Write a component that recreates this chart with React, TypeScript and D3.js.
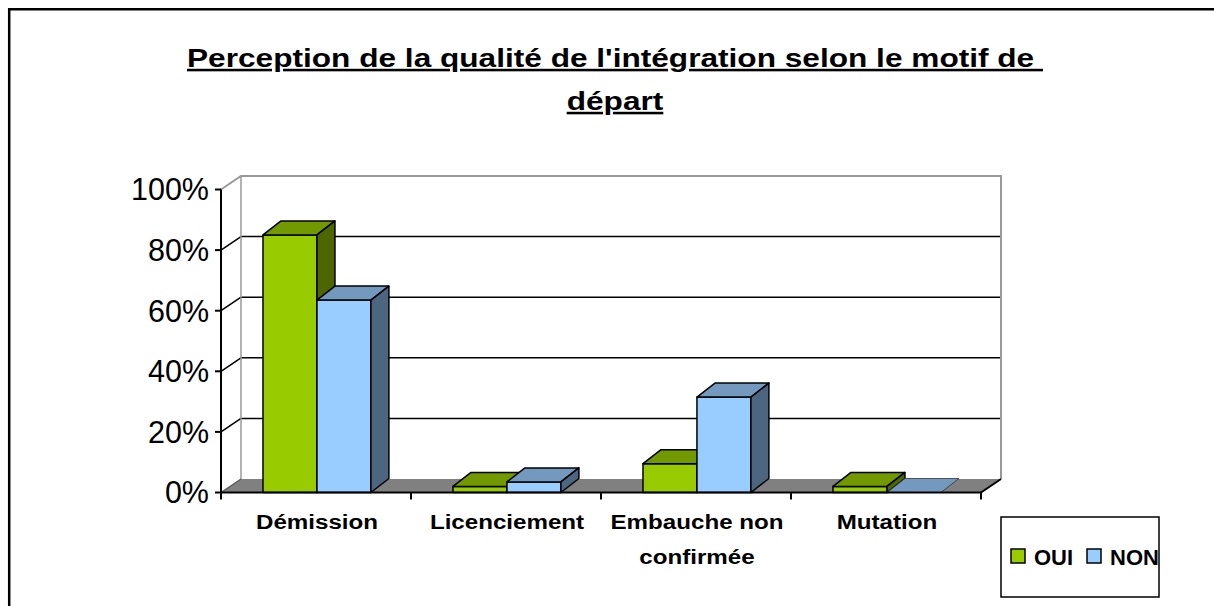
import React from "react";
import * as d3 from "d3";

const categories: string[][] = [["Démission"], ["Licenciement"], ["Embauche non", "confirmée"], ["Mutation"]];
const categoryKeys = ["Démission", "Licenciement", "Embauche non confirmée", "Mutation"];
const seriesNames = ["OUI", "NON"];
const ouiValues = [0.85, 0.02, 0.095, 0.02];
const nonValues = [0.635, 0.035, 0.315, 0];
const yTicks = [0, 0.2, 0.4, 0.6, 0.8, 1];
const titleLines = ["Perception de la qualité de l'intégration selon le motif de ", "départ"];

const FONT = "'Liberation Sans', Arial, sans-serif";
const colors: Record<string, { front: string; top: string; side: string }> = {
  OUI: { front: "#99CC00", top: "#739900", side: "#4D6600" },
  NON: { front: "#99CCFF", top: "#7399BF", side: "#4D6680" },
};

export default function App() {
  const x0 = 221, x1 = 981;
  const y = d3.scaleLinear().domain([0, 1]).range([492.5, 189.5]);
  const xCat = d3.scaleBand<string>().domain(categoryKeys).range([x0, x1]).padding(0);
  const bw = xCat.bandwidth();
  const xSer = d3.scaleBand<string>().domain(seriesNames).range([bw * 0.221, bw * 0.789]).padding(0);
  const wdx = 20, wdy = -13.5;
  const bdx = 18, bdy = -14;
  const base = y(0);
  const pct = d3.format(".0%");

  const bars: any[] = [];
  categoryKeys.forEach((c, i) => {
    seriesNames.forEach((s) => {
      const v = s === "OUI" ? ouiValues[i] : nonValues[i];
      bars.push({ c, s, v, x: (xCat(c) as number) + (xSer(s) as number), w: xSer.bandwidth() });
    });
  });

  return (
    <svg width={1214} height={606} style={{ position: "absolute", left: 0, top: 0, display: "block", overflow: "hidden" }}>
      <rect x={0} y={0} width={1214} height={606} fill="white" />
      <path d="M9.2,606 V9.2 H1214" fill="none" stroke="black" strokeWidth={2.5} />
      {/* title */}
      {titleLines.map((t, i) => (
        <g key={i} transform={`translate(615,${67 + i * 43}) scale(1.24,1)`}>
          <text x={0} y={0} textAnchor="middle" fontFamily={FONT} fontWeight="bold" fontSize={25.5}
            textDecoration="underline" fill="black" style={{ whiteSpace: "pre" }}>{t}</text>
        </g>
      ))}
      {/* floor */}
      <polygon points={`${x0},${base} ${x1},${base} ${x1 + wdx},${base + wdy} ${x0 + wdx},${base + wdy}`} fill="#808080" />
      {/* back wall gridlines */}
      {yTicks.filter((t) => t > 0 && t < 1).map((t) => (
        <g key={t}>
          <line x1={x0} y1={y(t)} x2={x0 + wdx} y2={y(t) + wdy} stroke="black" strokeWidth={1.5} />
          <line x1={x0 + wdx} y1={y(t) + wdy} x2={x1 + wdx} y2={y(t) + wdy} stroke="black" strokeWidth={1.5} />
        </g>
      ))}
      {/* wall outlines */}
      <polyline points={`${x0},${y(1)} ${x0 + wdx},${y(1) + wdy} ${x1 + wdx},${y(1) + wdy} ${x1 + wdx},${base + wdy}`} fill="none" stroke="#999" strokeWidth={2} />
      <line x1={x0 + wdx} y1={y(1) + wdy} x2={x0 + wdx} y2={base + wdy} stroke="#999" strokeWidth={1.5} />
      <line x1={x0} y1={base} x2={x0 + wdx} y2={base + wdy} stroke="#555" strokeWidth={1.2} />
      {/* y axis */}
      <line x1={x0} y1={y(1)} x2={x0} y2={base} stroke="black" strokeWidth={2} />
      {yTicks.map((t) => (
        <g key={t}>
          <line x1={x0 - 6} y1={y(t)} x2={x0} y2={y(t)} stroke="black" strokeWidth={2} />
          <text x={209} y={y(t)} dy="0.36em" textAnchor="end" fontFamily={FONT} fontSize={30.5} fill="black">{pct(t)}</text>
        </g>
      ))}
      {/* bars */}
      {bars.map((b, i) => {
        const top = y(b.v);
        const col = colors[b.s];
        const xa = b.x, xb = b.x + b.w;
        if (b.v === 0) {
          return (
            <polygon key={i} points={`${xa},${base} ${xb},${base} ${xb + bdx},${base + bdy} ${xa + bdx},${base + bdy}`}
              fill={col.top} stroke="#333" strokeWidth={0.8} />
          );
        }
        return (
          <g key={i} stroke="black" strokeWidth={1.5} strokeLinejoin="round">
            <rect x={xa} y={top} width={b.w} height={base - top} fill={col.front} />
            <polygon points={`${xa},${top} ${xb},${top} ${xb + bdx},${top + bdy} ${xa + bdx},${top + bdy}`} fill={col.top} />
            <polygon points={`${xb},${top} ${xb + bdx},${top + bdy} ${xb + bdx},${base + bdy} ${xb},${base}`} fill={col.side} />
          </g>
        );
      })}
      {/* x axis */}
      <line x1={x0} y1={base} x2={x1} y2={base} stroke="black" strokeWidth={2} />
      <line x1={x1} y1={base} x2={x1 + wdx} y2={base + wdy} stroke="black" strokeWidth={2} />
      {categoryKeys.concat(["end"]).map((c, i) => {
        const xx = i < categoryKeys.length ? (xCat(c) as number) : x1;
        return <line key={c} x1={xx} y1={base} x2={xx} y2={base + 7} stroke="black" strokeWidth={2} />;
      })}
      {categories.map((lines, i) =>
        lines.map((l, j) => (
          <g key={`${i}-${j}`} transform={`translate(${(xCat(categoryKeys[i]) as number) + bw / 2 + 1},${528.5 + j * 35}) scale(1.15,1)`}>
            <text x={0} y={0} textAnchor="middle" fontFamily={FONT} fontWeight="bold" fontSize={21} fill="black">{l}</text>
          </g>
        ))
      )}
      {/* legend */}
      <defs>
        <clipPath id="legclip"><rect x={1001} y={517} width={158} height={80} /></clipPath>
      </defs>
      <rect x={1001} y={517} width={158} height={80} fill="white" stroke="black" strokeWidth={1.5} />
      <g clipPath="url(#legclip)">
        {seriesNames.map((s, i) => {
          const lx = 1011 + i * 76;
          return (
            <g key={s}>
              <rect x={lx} y={549} width={14} height={14} fill={colors[s].front} stroke="black" strokeWidth={1.5} />
              <text x={lx + 23} y={564.5} fontFamily={FONT} fontWeight="bold" fontSize={22} fill="black">{s}</text>
            </g>
          );
        })}
      </g>
    </svg>
  );
}
